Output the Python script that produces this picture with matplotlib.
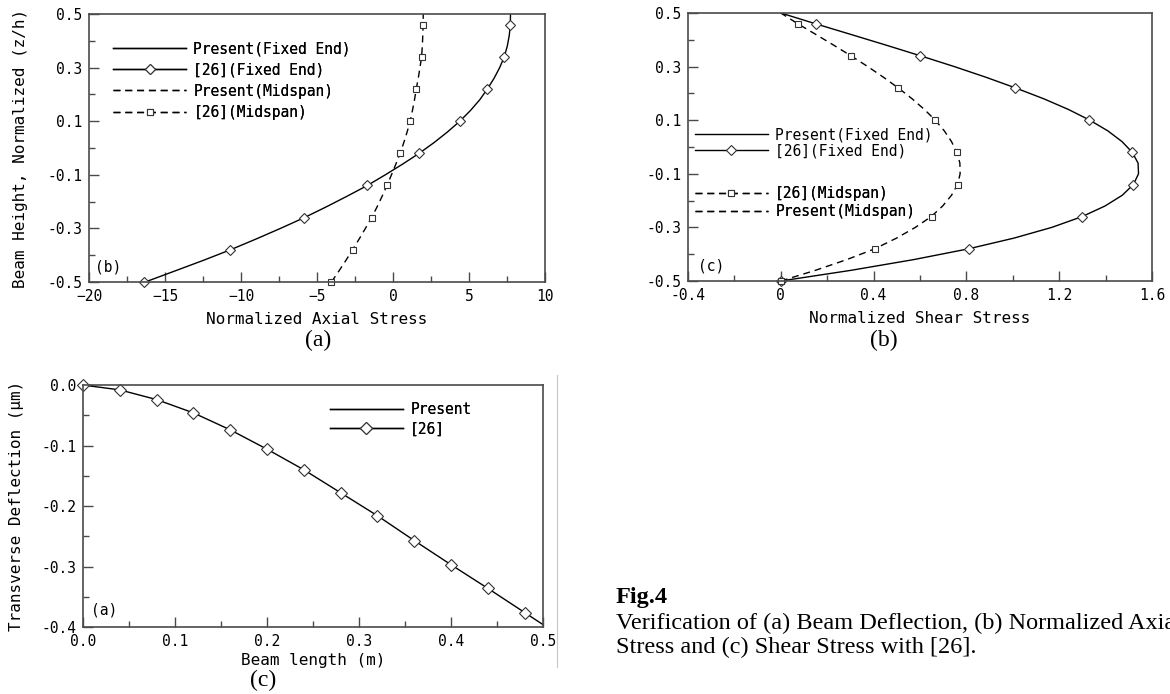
"""Beam verification figure: axial stress, shear stress and deflection against [26]."""

import matplotlib
matplotlib.use("Agg")
import matplotlib.pyplot as plt
from matplotlib.lines import Line2D
from matplotlib.ticker import MultipleLocator, FixedLocator

MONO = "DejaVu Sans Mono"
SERIF = "Liberation Serif"
SPINE = "#4a4a4a"

# ---- data ----
ref_z = [-0.5, -0.38, -0.26, -0.14, -0.02, 0.10, 0.22, 0.34, 0.46]
present_z = [-0.5, -0.46, -0.42, -0.38, -0.34, -0.3, -0.26, -0.22, -0.18, -0.14,
             -0.1, -0.06, -0.02, 0.02, 0.06, 0.1, 0.14, 0.18, 0.22, 0.26,
             0.3, 0.34, 0.38, 0.42, 0.46, 0.5]

# axial stress
ref_fixed_axial = [-16.4, -10.7, -5.84, -1.69, 1.72, 4.4, 6.21, 7.32, 7.72]
ref_mid_axial = [-4.05, -2.66, -1.41, -0.4, 0.47, 1.13, 1.53, 1.88, 1.98]
present_fixed_axial = [-16.3, -14.4, -12.51, -10.7, -9.02, -7.4, -5.84, -4.4, -3.02, -1.69,
                       -0.5, 0.64, 1.72, 2.7, 3.59, 4.4, 5.1, 5.71, 6.21, 6.65,
                       7.02, 7.32, 7.52, 7.65, 7.72, 7.73]
present_mid_axial = [-4.05, -3.57, -3.105, -2.66, -2.23, -1.815, -1.41, -1.05, -0.715, -0.4,
                     -0.1, 0.19, 0.47, 0.71, 0.93, 1.13, 1.28, 1.415, 1.53, 1.66,
                     1.775, 1.88, 1.93, 1.96, 1.98, 1.99]

# shear stress
ref_fixed_shear = [0.0, 0.81, 1.30, 1.52, 1.515, 1.33, 1.01, 0.60, 0.15]
ref_mid_shear = [0.0, 0.405, 0.65, 0.762, 0.759, 0.666, 0.507, 0.303, 0.073]
present_fixed_shear = [0.0, 0.304, 0.574, 0.809, 1.005, 1.168, 1.298, 1.398, 1.472, 1.52,
                       1.542, 1.54, 1.515, 1.471, 1.41, 1.332, 1.24, 1.133, 1.013, 0.885,
                       0.748, 0.603, 0.454, 0.302, 0.149, 0.0]
present_mid_shear = [0.0, 0.15, 0.285, 0.405, 0.499, 0.58, 0.648, 0.698, 0.736, 0.762,
                     0.773, 0.772, 0.759, 0.736, 0.705, 0.666, 0.619, 0.566, 0.507, 0.443,
                     0.375, 0.303, 0.228, 0.151, 0.073, 0.0]

# deflection
ref_x = [0.0, 0.04, 0.08, 0.12, 0.16, 0.2, 0.24, 0.28, 0.32, 0.36, 0.4, 0.44, 0.48]
ref_deflection = [0.0, -0.008, -0.024, -0.046, -0.074, -0.106, -0.140, -0.178,
                  -0.216, -0.257, -0.297, -0.336, -0.376]
present_x = ref_x + [0.5]
present_deflection = ref_deflection + [-0.396]

shear_xticks = [-0.4, 0, 0.4, 0.8, 1.2, 1.6]
shear_xlabels = ["-0.4", "0", "0.4", "0.8", "1.2", "1.6"]
height_ticks = [-0.5, -0.3, -0.1, 0.1, 0.3, 0.5]

LINE = dict(color="black", linewidth=1.0)
DASH = dict(color="black", linewidth=1.0, linestyle=(0, (5, 3.5)))
DIAMOND = dict(marker="D", markersize=5.5, markerfacecolor="white",
               markeredgecolor="#333333", markeredgewidth=0.8, linestyle="none", clip_on=False)
SQUARE = dict(marker="s", markersize=5, markerfacecolor="white",
              markeredgecolor="#333333", markeredgewidth=0.8, linestyle="none", clip_on=False)


def style_axes(ax):
    for side in ("top", "right", "bottom", "left"):
        ax.spines[side].set_color(SPINE)
        ax.spines[side].set_linewidth(1.2)
    ax.tick_params(which="both", direction="in", color=SPINE, width=1.0,
                   top=False, right=False, labelsize=10.5, pad=5)
    ax.tick_params(which="major", length=7)
    ax.tick_params(which="minor", length=4.5)
    for lab in ax.get_xticklabels() + ax.get_yticklabels():
        lab.set_fontfamily(MONO)


def height_axis(ax):
    ax.set_ylim(-0.5, 0.5)
    ax.yaxis.set_major_locator(FixedLocator(height_ticks))
    ax.yaxis.set_minor_locator(MultipleLocator(0.1))
    ax.set_yticklabels([f"{t:.1f}" for t in height_ticks])


def add_legend(ax, handles, labels, x, y, spacing):
    leg = ax.legend(handles, labels, loc="upper left", bbox_to_anchor=(x, y),
                    frameon=False, borderpad=0, borderaxespad=0, handlelength=5.0,
                    handletextpad=0.5, labelspacing=spacing,
                    prop={"family": MONO, "size": 10.5})
    ax.add_artist(leg)
    return leg


fig = plt.figure(figsize=(11.7, 6.94), dpi=100)

# ---- (a) axial stress ----
ax1 = fig.add_axes([0.0761, 0.5937, 0.3897, 0.3862])
ax1.plot(present_fixed_axial, present_z, **LINE)
ax1.plot(ref_fixed_axial, ref_z, **DIAMOND)
ax1.plot(present_mid_axial, present_z, **DASH)
ax1.plot(ref_mid_axial, ref_z, **SQUARE)
ax1.set_xlim(-20, 10)
ax1.xaxis.set_major_locator(MultipleLocator(5))
ax1.xaxis.set_minor_locator(MultipleLocator(2.5))
height_axis(ax1)
ax1.set_xlabel("Normalized Axial Stress", family=MONO, fontsize=11.5, labelpad=6)
ax1.set_ylabel("Beam Height, Normalized (z/h)", family=MONO, fontsize=11.5, labelpad=14)
ax1.text(0.012, 0.055, "(b)", transform=ax1.transAxes, family=MONO, fontsize=10.5, va="center")
style_axes(ax1)

h_fixed = Line2D([], [], **LINE)
h_fixed_ref = Line2D([], [], color="black", linewidth=1.0, marker="D", markersize=5.5,
                     markerfacecolor="white", markeredgecolor="#333333", markeredgewidth=0.8)
h_mid = Line2D([], [], **DASH)
h_mid_ref = Line2D([], [], color="black", linewidth=1.0, linestyle=(0, (5, 3.5)), marker="s",
                   markersize=4, markerfacecolor="white", markeredgecolor="#333333", markeredgewidth=0.8)
add_legend(ax1, [h_fixed, h_fixed_ref, h_mid, h_mid_ref],
           ["Present(Fixed End)", "[26](Fixed End)", "Present(Midspan)", "[26](Midspan)"],
           0.053, 0.898, 0.42)

# ---- (b) shear stress ----
ax2 = fig.add_axes([0.588, 0.5951, 0.3966, 0.3862])
ax2.plot(present_fixed_shear, present_z, **LINE)
ax2.plot(ref_fixed_shear, ref_z, **DIAMOND)
ax2.plot(present_mid_shear, present_z, **DASH)
ax2.plot(ref_mid_shear, ref_z, **SQUARE)
ax2.set_xlim(-0.4, 1.6)
ax2.xaxis.set_major_locator(FixedLocator(shear_xticks))
ax2.xaxis.set_minor_locator(MultipleLocator(0.2))
ax2.set_xticklabels(shear_xlabels)
height_axis(ax2)
ax2.set_xlabel("Normalized Shear Stress", family=MONO, fontsize=11.5, labelpad=6)
ax2.text(0.022, 0.055, "(c)", transform=ax2.transAxes, family=MONO, fontsize=10.5, va="center")
style_axes(ax2)
add_legend(ax2, [h_fixed, h_fixed_ref], ["Present(Fixed End)", "[26](Fixed End)"],
           0.015, 0.574, 0.07)
add_legend(ax2, [h_mid_ref, h_mid], ["[26](Midspan)", "Present(Midspan)"],
           0.015, 0.354, 0.2)

# ---- (c) deflection ----
ax3 = fig.add_axes([0.0709, 0.0965, 0.3932, 0.3487])
ax3.plot(present_x, present_deflection, **LINE)
ax3.plot(ref_x, ref_deflection, **dict(DIAMOND, markersize=6.5))
ax3.set_xlim(0, 0.5)
ax3.set_ylim(-0.4, 0.0)
ax3.xaxis.set_major_locator(MultipleLocator(0.1))
ax3.xaxis.set_minor_locator(MultipleLocator(0.05))
ax3.yaxis.set_major_locator(MultipleLocator(0.1))
ax3.yaxis.set_minor_locator(MultipleLocator(0.05))
ax3.xaxis.set_major_formatter(lambda v, p: f"{v:.1f}")
ax3.yaxis.set_major_formatter(lambda v, p: f"{v:.1f}" if abs(v) > 1e-9 else "0.0")
ax3.set_xlabel("Beam length (m)", family=MONO, fontsize=11.5, labelpad=3)
ax3.set_ylabel("Transverse Deflection (\u03bcm)", family=MONO, fontsize=11.5, labelpad=12)
ax3.text(0.018, 0.07, "(a)", transform=ax3.transAxes, family=MONO, fontsize=10.5, va="center")
style_axes(ax3)
h_def_ref = Line2D([], [], color="black", linewidth=1.0, marker="D", markersize=6.5,
                   markerfacecolor="white", markeredgecolor="#333333", markeredgewidth=0.8)
add_legend(ax3, [h_fixed, h_def_ref], ["Present", "[26]"], 0.537, 0.928, 0.28)

# faint page border to the right of the lower panel
fig.add_artist(Line2D([557 / 1170, 557 / 1170], [1 - 375 / 694, 1 - 667 / 694],
                      transform=fig.transFigure, color="#c8c8c8", linewidth=0.8))

# ---- captions ----
fig.text(318 / 1170, 1 - 340 / 694, "(a)", family=SERIF, fontsize=17, ha="center", va="center")
fig.text(884 / 1170, 1 - 340 / 694, "(b)", family=SERIF, fontsize=17, ha="center", va="center")
fig.text(263 / 1170, 1 - 680 / 694, "(c)", family=SERIF, fontsize=17, ha="center", va="center")
fig.text(616 / 1170, 1 - 598 / 694, "Fig.4", family=SERIF, fontsize=17.5, weight="bold", va="center")
fig.text(616 / 1170, 1 - 623 / 694, "Verification of (a) Beam Deflection, (b) Normalized Axial",
         family=SERIF, fontsize=17.5, va="center")
fig.text(616 / 1170, 1 - 647 / 694, "Stress and (c) Shear Stress with [26].",
         family=SERIF, fontsize=17.5, va="center")

fig.savefig("out.png", dpi=100, facecolor="white")
